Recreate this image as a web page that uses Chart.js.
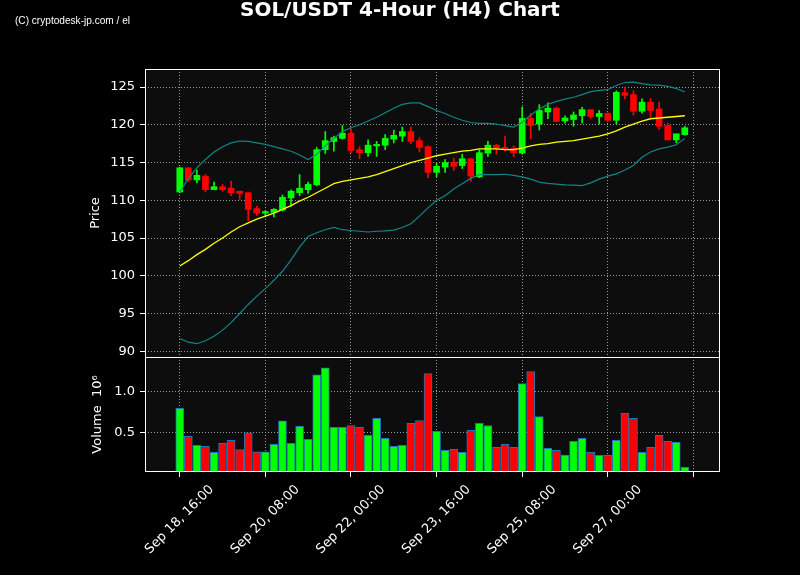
<!DOCTYPE html>
<html><head><meta charset="utf-8">
<script src="https://cdn.jsdelivr.net/npm/chart.js@4"></script>
<style>html,body{margin:0;padding:0;background:#000;}canvas{display:block;}</style>
</head><body>
<canvas id="c" width="800" height="575"></canvas>
<script>
// ---- data (4-hour candles, index 0 = Sep 18 16:00) ----
const opens  = [111.1,114.3,112.7,113.2,111.4,111.8,111.6,111.2,111.0,108.9,108.3,108.4,108.7,110.3,111.0,111.4,112.05,116.7,117.8,118.2,118.9,116.7,116.3,117.2,117.3,118.1,118.5,119.1,117.9,117.1,113.7,114.4,115.0,114.6,115.5,113.1,116.25,117.3,117.0,116.9,116.25,120.85,120.1,121.7,122.2,120.5,120.7,121.2,122.0,121.1,121.5,120.6,124.25,124.0,121.8,123.0,122.1,119.9,118.0,118.7];
const highs  = [114.4,114.3,114.0,113.4,112.4,112.1,112.5,111.2,111.1,109.2,108.6,108.9,110.7,111.4,113.4,112.4,117.0,119.1,118.5,119.9,119.5,117.1,118.0,117.8,118.7,119.3,119.7,119.7,118.3,117.2,114.9,115.4,115.6,116.1,115.6,116.7,117.8,117.4,118.5,117.2,122.35,121.5,122.66,122.9,122.35,121.2,121.7,122.3,122.0,121.9,121.6,124.5,125.0,124.5,123.45,123.5,123.0,120.2,118.8,119.8];
const lows   = [111.0,112.5,112.3,111.1,111.4,111.2,110.6,110.1,107.3,108.0,107.8,107.8,108.6,109.2,110.6,110.9,111.9,116.2,116.5,118.1,116.3,115.5,115.8,115.8,116.7,117.6,117.8,117.5,116.4,113.0,113.1,113.7,113.95,114.2,112.5,113.0,115.8,116.1,116.5,115.8,116.1,118.15,119.3,120.8,120.4,120.2,119.8,120.2,120.85,120.1,120.45,120.1,123.45,121.3,121.55,121.0,119.4,118.0,117.6,118.6];
const closes = [114.3,112.7,113.3,111.4,111.8,111.4,111.0,110.9,108.8,108.3,108.5,108.8,110.4,111.2,111.6,112.1,116.7,117.9,118.3,118.9,116.6,116.3,117.3,117.4,118.2,118.6,119.1,117.8,117.0,113.7,114.5,115.0,114.5,115.5,113.2,116.3,117.3,116.9,116.7,116.3,120.85,119.9,121.9,122.2,120.45,120.9,121.3,122.0,121.1,121.5,120.6,124.3,123.9,121.8,123.0,121.9,119.8,118.0,118.8,119.6];
const volumes = [0.793,0.451,0.341,0.329,0.256,0.366,0.402,0.289,0.496,0.264,0.264,0.354,0.642,0.366,0.573,0.415,1.203,1.289,0.561,0.561,0.585,0.561,0.463,0.671,0.427,0.329,0.341,0.61,0.646,1.22,0.512,0.28,0.293,0.256,0.524,0.61,0.585,0.317,0.354,0.317,1.098,1.244,0.695,0.305,0.28,0.224,0.39,0.427,0.256,0.22,0.22,0.402,0.732,0.671,0.256,0.317,0.463,0.39,0.378,0.073];
const sma20 = [101.3,102.0,102.8,103.5,104.3,105.0,105.8,106.5,107.0,107.5,107.9,108.3,108.8,109.3,109.9,110.4,111.0,111.6,112.2,112.5,112.7,112.9,113.1,113.4,113.8,114.2,114.6,115.0,115.3,115.6,115.9,116.1,116.3,116.5,116.6,116.8,116.8,116.8,116.7,116.7,116.9,117.2,117.4,117.5,117.7,117.8,117.9,118.1,118.3,118.5,118.8,119.2,119.7,120.1,120.5,120.8,120.9,121.0,121.1,121.2];
const bbUpper = [111.1,112.9,114.3,115.4,116.4,117.1,117.6,117.85,117.8,117.6,117.4,117.1,116.8,116.5,116.0,115.4,116.1,117.2,118.2,119.1,119.6,120.0,120.5,121.0,121.6,122.2,122.7,122.9,122.9,122.4,121.9,121.5,121.0,120.6,120.3,120.2,120.2,120.1,119.9,119.7,120.3,121.3,122.1,122.7,123.1,123.4,123.65,124.0,124.4,124.55,124.65,125.2,125.6,125.65,125.45,125.3,125.25,125.1,124.8,124.35];
const bbLower = [91.7,91.2,91.0,91.4,92.0,92.8,93.8,95.0,96.2,97.3,98.3,99.4,100.6,102.1,103.8,105.2,105.7,106.1,106.4,106.1,106.0,105.9,105.8,105.9,105.95,106.05,106.4,106.9,107.9,109.0,110.0,110.6,111.5,112.2,112.9,113.4,113.4,113.4,113.45,113.3,113.1,112.8,112.4,112.25,112.15,112.05,112.0,111.95,112.3,112.8,113.2,113.5,114.0,114.6,115.7,116.4,116.8,117.05,117.35,118.2];
const priceTicks = [90,95,100,105,110,115,120,125];
const volumeTicks = [0.5,1.0];
const xTickPos = [0,10,20,30,40,50,60];
const xTickLabels = ["Sep 18, 16:00","Sep 20, 08:00","Sep 22, 00:00","Sep 23, 16:00","Sep 25, 08:00","Sep 27, 00:00",""];
const chartTitle = "SOL/USDT 4-Hour (H4) Chart";
const watermark = "(C) cryptodesk-jp.com / el";

// ---- build ----
const FONT = "'DejaVu Sans', sans-serif";
const idx = opens.map((_, i) => i);
const up = i => closes[i] >= opens[i];
const candleColors = idx.map(i => up(i) ? '#00ff00' : '#ff0000');
const lineData = arr => arr.map((v, i) => ({x: i, y: v}));

const gridCommon = {color: '#9a9a9a', lineWidth: 1, drawTicks: true, tickLength: 5, tickColor: '#ffffff', tickWidth: 1, offset: false};
const tickFont = {family: FONT, size: 13};

const panelPlugin = {
  id: 'panels',
  beforeDraw(chart) {
    const {ctx, chartArea: a} = chart;
    ctx.save();
    ctx.fillStyle = '#000';
    ctx.fillRect(0, 0, chart.width, chart.height);
    ctx.fillStyle = '#0d0d0d';
    ctx.fillRect(a.left, a.top, a.right - a.left, a.bottom - a.top);
    ctx.restore();
  },
  afterDraw(chart) {
    const {ctx, chartArea: a} = chart;
    const y = chart.scales.y, yv = chart.scales.yv;
    ctx.save();
    ctx.strokeStyle = '#ffffff';
    ctx.lineWidth = 1;
    ctx.strokeRect(Math.round(a.left) + 0.5, Math.round(y.top) + 0.5, Math.round(a.right - a.left) - 1, Math.round(y.bottom - y.top));
    ctx.strokeRect(Math.round(a.left) + 0.5, Math.round(yv.top) + 0.5, Math.round(a.right - a.left) - 1, Math.round(yv.bottom - yv.top) - 1);
    // title
    ctx.fillStyle = '#ffffff';
    ctx.textAlign = 'center';
    ctx.textBaseline = 'middle';
    ctx.font = "bold 16px " + FONT;
    const tw = ctx.measureText(chartTitle).width;
    const ts = 16 * 320 / tw;
    ctx.font = "bold " + ts.toFixed(2) + "px " + FONT;
    ctx.fillText(chartTitle, 400, 11);
    // watermark
    ctx.font = "11px 'Liberation Sans Narrow', 'Liberation Sans', sans-serif";
    const ww = ctx.measureText(watermark).width;
    ctx.translate(15, 21);
    ctx.scale(115 / ww, 1);
    ctx.textAlign = 'left';
    ctx.fillText(watermark, 0, 0);
    ctx.restore();
  }
};

new Chart(document.getElementById('c'), {
  type: 'bar',
  data: {
    datasets: [
      {type: 'line', data: lineData(sma20), borderColor: '#ffff00', borderWidth: 1.3, pointRadius: 0, tension: 0, yAxisID: 'y', order: 0},
      {type: 'line', data: lineData(bbUpper), borderColor: '#138585', borderWidth: 1.2, pointRadius: 0, tension: 0, yAxisID: 'y', order: 1},
      {type: 'line', data: lineData(bbLower), borderColor: '#138585', borderWidth: 1.2, pointRadius: 0, tension: 0, yAxisID: 'y', order: 1},
      {type: 'bar', data: idx.map(i => ({x: i, y: [opens[i], closes[i]]})), backgroundColor: candleColors, borderWidth: 0, barThickness: 6, minBarLength: 1, grouped: false, yAxisID: 'y', order: 3},
      {type: 'bar', data: idx.map(i => ({x: i, y: [lows[i], highs[i]]})), backgroundColor: candleColors, borderWidth: 0, barThickness: 1, grouped: false, yAxisID: 'y', order: 4},
      {type: 'bar', data: idx.map(i => ({x: i, y: volumes[i]})), backgroundColor: candleColors, borderColor: '#1f77b4', borderWidth: 1, borderSkipped: false, barThickness: 8, grouped: false, yAxisID: 'yv', order: 5}
    ]
  },
  options: {
    responsive: false,
    animation: false,
    events: [],
    devicePixelRatio: 1,
    layout: {padding: {left: 0, right: 80, top: 69, bottom: 0}},
    plugins: {legend: {display: false}, tooltip: {enabled: false}, title: {display: false}},
    scales: {
      x: {
        type: 'linear', min: -4.06, max: 63.11, offset: false,
        afterBuildTicks: s => { s.ticks = xTickPos.map(v => ({value: v})); },
        afterFit: s => { s.height = 103; },
        ticks: {color: '#ffffff', font: tickFont, minRotation: 45, maxRotation: 45, autoSkip: false, padding: 5, labelOffset: 32,
          callback: v => { const k = xTickPos.indexOf(v); return k >= 0 ? xTickLabels[k] : ''; }},
        grid: gridCommon,
        border: {display: false, dash: [1, 2]}
      },
      y: {
        type: 'linear', position: 'left', stack: 'panels', stackWeight: 288, weight: 1,
        min: 89.24, max: 127.39,
        afterBuildTicks: s => { s.ticks = priceTicks.map(v => ({value: v})); },
        afterFit: s => { s.width = 145; },
        ticks: {color: '#ffffff', font: tickFont, padding: 5, callback: v => String(v)},
        grid: gridCommon,
        border: {display: false, dash: [1, 2]},
        title: {display: true, text: 'Price', color: '#ffffff', font: tickFont, padding: {top: 88, bottom: 0}}
      },
      yv: {
        type: 'linear', position: 'left', stack: 'panels', stackWeight: 115, weight: 0,
        min: 0.016, max: 1.422,
        afterBuildTicks: s => { s.ticks = volumeTicks.map(v => ({value: v})); },
        afterFit: s => { s.width = 145; },
        ticks: {color: '#ffffff', font: tickFont, padding: 5, callback: v => v.toFixed(1)},
        grid: gridCommon,
        border: {display: false, dash: [1, 2]},
        title: {display: true, text: 'Volume  10\u2076', color: '#ffffff', font: tickFont, padding: {top: 90, bottom: 0}}
      }
    }
  },
  plugins: [panelPlugin]
});
</script>
</body></html>
